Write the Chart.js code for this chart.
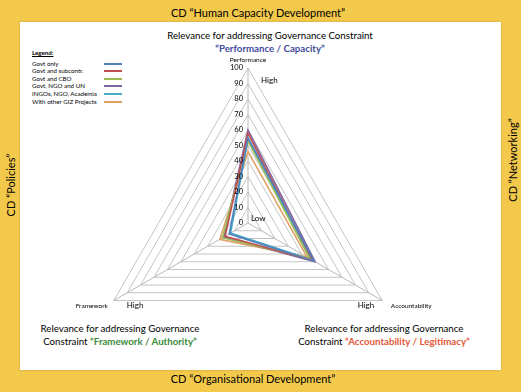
<!DOCTYPE html>
<html>
<head>
<meta charset="utf-8">
<script src="https://cdn.jsdelivr.net/npm/chart.js@4"></script>
<style>
  body { margin: 0; width: 521px; height: 392px; overflow: hidden; background: #f3c94c; font-family: Lato, sans-serif; }
  .frame { position: absolute; left: 0; top: 0; width: 521px; height: 392px; background: #f3c94c; }
  .inner { position: absolute; left: 20px; top: 22px; width: 481px; height: 348px; background: #fff; box-shadow: 0 0 2px rgba(0,0,0,0.25); }
  .t { position: absolute; white-space: nowrap; color: #000; }
  .cd { font-size: 11px; }
  .rel { font-size: 9.7px; line-height: 12.5px; text-align: center; }
  .legend { position: absolute; left: 32px; top: 49px; font-size: 6.2px; line-height: 7.6px; }
  .legend .head { font-weight: bold; text-decoration: underline; margin-bottom: 3px; }
  .legend .row { position: relative; width: 92px; }
  .legend .sw { position: absolute; left: 72px; top: 3px; width: 18px; height: 2px; }
  canvas { position: absolute; left: 0; top: 0; }
</style>
</head>
<body>
<div class="frame"></div>
<div class="inner"></div>
<div class="t cd" style="left:258px; top:6px; transform:translateX(-50%);">CD “Human Capacity Development”</div>
<div class="t cd" style="left:253px; top:372px; transform:translateX(-50%);">CD “Organisational Development”</div>
<div class="t cd" style="left:10px; top:185px; transform:translate(-50%,-50%) rotate(-90deg);">CD “Policies”</div>
<div class="t cd" style="left:512px; top:160px; transform:translate(-50%,-50%) rotate(-90deg);">CD “Networking”</div>
<div class="t rel" style="left:270px; top:29px; transform:translateX(-50%);">Relevance for addressing Governance Constraint<br><b style="color:#3f4c9e;">“Performance / Capacity”</b></div>
<div class="t rel" style="left:120px; top:322px; transform:translateX(-50%);">Relevance for addressing Governance<br>Constraint <b style="color:#3b8a3b;">“Framework / Authority”</b></div>
<div class="t rel" style="left:384px; top:322px; transform:translateX(-50%);">Relevance for addressing Governance<br>Constraint <b style="color:#e4583a;">“Accountability / Legitimacy”</b></div>
<div class="legend" id="legend"><div class="head">Legend:</div></div>
<canvas id="chart" width="521" height="392"></canvas>
<script>
// axes of the radar
const axes = ['Performance', 'Accountability', 'Framework'];
const tickLabels = ['0', '10', '20', '30', '40', '50', '60', '70', '80', '90', '100'];

// series (Performance, Accountability, Framework)
const govtOnly = [55, 49, 14];
const govtSubcontr = [58, 48, 17];
const govtCbo = [53, 46, 19];
const govtNgoUn = [60, 50, 18];
const ingosNgoAcademia = [54, 47, 13];
const otherGiz = [46, 44, 21];

const seriesNames = ['Govt only', 'Govt and subcontr.', 'Govt and CBO', 'Govt, NGO and UN', 'INGOs, NGO, Academia', 'With other GIZ Projects'];
const seriesData = [govtOnly, govtSubcontr, govtCbo, govtNgoUn, ingosNgoAcademia, otherGiz];
const colors = ['#4f81bd', '#c0504d', '#9bbb59', '#8064a2', '#4bacc6', '#e0a064'];

// legend in html
const legendBox = document.getElementById('legend');
seriesNames.forEach((n, i) => {
  const row = document.createElement('div');
  row.className = 'row';
  row.innerHTML = n + '<span class="sw" style="background:' + colors[i] + '"></span>';
  legendBox.appendChild(row);
});

// labels around the radar, placed through the scale
const axisText = {
  id: 'axisText',
  afterDraw(chart) {
    const s = chart.scales.r;
    const ctx = chart.ctx;
    ctx.save();
    ctx.fillStyle = '#000';
    ctx.textBaseline = 'middle';
    ctx.font = '7.5px Lato';
    ctx.textAlign = 'right';
    s.ticks.forEach((t, i) => {
      const y = s.yCenter - s.getDistanceFromCenterForValue(t.value);
      ctx.fillText(tickLabels[i], s.xCenter - 5, y);
    });
    ctx.font = '6.5px Lato';
    ctx.textAlign = 'center';
    let p = s.getPointPosition(0, s.drawingArea + 8);
    ctx.fillText(axes[0], p.x, p.y);
    p = s.getPointPosition(2, s.drawingArea);
    ctx.fillText(axes[2], p.x - 22, p.y + 5);
    p = s.getPointPosition(1, s.drawingArea);
    ctx.fillText(axes[1], p.x + 29, p.y + 5);
    ctx.font = '8px Lato';
    ctx.textAlign = 'left';
    ctx.fillText('High', s.xCenter + 13, s.yCenter - s.getDistanceFromCenterForValue(92));
    ctx.fillText('Low', s.xCenter + 3, s.yCenter - 5);
    p = s.getPointPosition(2, s.drawingArea);
    ctx.fillText('High', p.x + 13, p.y + 5);
    p = s.getPointPosition(1, s.drawingArea);
    ctx.textAlign = 'right';
    ctx.fillText('High', p.x - 8, p.y + 5);
    ctx.restore();
  }
};

new Chart(document.getElementById('chart').getContext('2d'), {
  type: 'radar',
  data: {
    labels: axes,
    datasets: seriesData.map((d, i) => ({
      label: seriesNames[i],
      data: d,
      borderColor: colors[i],
      backgroundColor: 'transparent',
      borderWidth: 1.6,
      pointRadius: 0,
      fill: false
    }))
  },
  options: {
    responsive: false,
    animation: false,
    layout: { padding: { left: 93, top: 68, right: 118, bottom: 14 } },
    plugins: { legend: { display: false }, tooltip: { enabled: false } },
    scales: {
      r: {
        min: 0,
        max: 100,
        ticks: { stepSize: 10, display: false, showLabelBackdrop: false },
        grid: { color: '#c4c4c4', lineWidth: 1 },
        angleLines: { color: '#b8b8b8', lineWidth: 1 },
        pointLabels: { display: false }
      }
    }
  },
  plugins: [axisText]
});
</script>
</body>
</html>
